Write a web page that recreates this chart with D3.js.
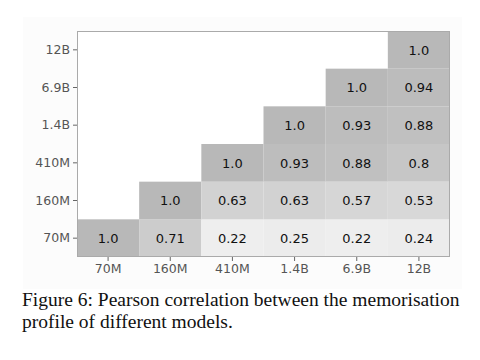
<!DOCTYPE html>
<html><head><meta charset="utf-8">
<script src="https://cdn.jsdelivr.net/npm/d3@7"></script>
<style>body{margin:0;background:#fff}svg{display:block}</style>
</head><body>
<svg id="c" width="480" height="360"></svg>
<script>
const models = ["70M","160M","410M","1.4B","6.9B","12B"];
// rows: y model, columns: x model (lower triangle incl. diagonal shown)
const row70M  = [1.0, 0.71, 0.22, 0.25, 0.22, 0.24];
const row160M = [null, 1.0, 0.63, 0.63, 0.57, 0.53];
const row410M = [null, null, 1.0, 0.93, 0.88, 0.8];
const row14B  = [null, null, null, 1.0, 0.93, 0.88];
const row69B  = [null, null, null, null, 1.0, 0.94];
const row12B  = [null, null, null, null, null, 1.0];
const valueLabels = {"1":"1.0"};
const captionLines = ["Figure 6: Pearson correlation between the memorisation","profile of different models."];

const rows = [row70M,row160M,row410M,row14B,row69B,row12B];
const cells = [];
rows.forEach((r,i)=>r.forEach((v,j)=>{ if(v!==null) cells.push({y:models[i],x:models[j],v}); }));

const svg = d3.select("#c");
const L=77,R=450,T=31,B=257;
svg.append("rect").attr("x",23).attr("y",17).attr("width",439).attr("height",272).attr("fill","#fcfcfc");
const x = d3.scaleBand().domain(models).range([L,R]);
const y = d3.scaleBand().domain(models).range([B,T]);
const color = d3.scaleLinear().domain([0,1]).range(["#fdfdfd","#b8b8b8"]);

svg.append("rect").attr("x",L).attr("y",T).attr("width",R-L).attr("height",B-T).attr("fill","#fff");
svg.append("g").selectAll("rect").data(cells).join("rect")
  .attr("x",d=>x(d.x)).attr("y",d=>y(d.y)).attr("width",x.bandwidth()).attr("height",y.bandwidth())
  .attr("fill",d=>color(d.v));
svg.append("g").selectAll("text").data(cells).join("text")
  .attr("x",d=>x(d.x)+x.bandwidth()/2).attr("y",d=>y(d.y)+y.bandwidth()/2)
  .attr("text-anchor","middle").attr("dy","0.36em")
  .attr("font-family","'DejaVu Sans', sans-serif").attr("font-size","13px").attr("fill","#111")
  .text(d=>valueLabels[String(d.v)]||String(d.v));
svg.append("rect").attr("x",L+0.5).attr("y",T+0.5).attr("width",R-L-1).attr("height",B-T-1)
  .attr("fill","none").attr("stroke","#aaa").attr("stroke-width",1);

const styleAxis = g=>{
  g.select(".domain").remove();
  g.selectAll(".tick line").attr("stroke","#666");
  g.selectAll(".tick text").attr("font-family","'DejaVu Sans', sans-serif").attr("font-size","12.5px").attr("fill","#555");
};
svg.append("g").attr("transform",`translate(0,${B})`)
  .call(d3.axisBottom(x).tickSize(4).tickPadding(3)).call(styleAxis);
svg.append("g").attr("transform",`translate(${L},0)`)
  .call(d3.axisLeft(y).tickSize(4).tickPadding(3)).call(styleAxis);

svg.append("g").selectAll("text").data(captionLines).join("text")
  .attr("x",22).attr("y",(d,i)=>306+i*22)
  .attr("font-family","'Liberation Serif', serif").attr("font-size","19.5px").attr("fill","#111")
  .text(d=>d);
</script>
</body></html>
